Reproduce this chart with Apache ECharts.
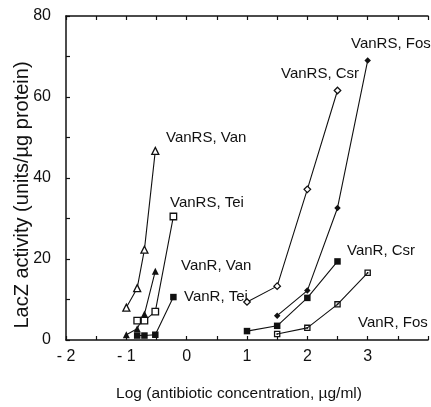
<!DOCTYPE html>
<html>
<head>
<meta charset="utf-8">
<script src="https://cdn.jsdelivr.net/npm/echarts@6/dist/echarts.min.js"></script>
<style>
  html, body { margin: 0; padding: 0; background: #fff; }
  #container { width: 431px; height: 407px; }
</style>
</head>
<body>
<div id="container"></div>
<script>
let dom = document.getElementById("container");
let myChart = echarts.init(dom);

// log(antibiotic concentration, ug/ml) for each curve
const vanDoses = [-1, -0.82, -0.7, -0.52];
const teiDoses = [-0.82, -0.7, -0.52, -0.22];
const csrDoses = [1, 1.5, 2, 2.5];
const fosDoses = [1.5, 2, 2.5, 3];

// LacZ activity (units/ug protein)
const vanrsVan = [8, 12.8, 22.3, 46.7];
const vanrsTei = [4.8, 4.8, 7, 30.5];
const vanrVan = [1.3, 2.8, 6.4, 17];
const vanrTei = [1.1, 1.1, 1.3, 10.6];
const vanrsCsr = [9.4, 13.3, 37.2, 61.6];
const vanrsFos = [6, 12.2, 32.6, 69];
const vanrCsr = [2.2, 3.5, 10.4, 19.4];
const vanrFos = [1.5, 3, 8.8, 16.6];

const seriesNames = ["VanRS, Van", "VanRS, Tei", "VanR, Van", "VanR, Tei",
    "VanRS, Csr", "VanRS, Fos", "VanR, Csr", "VanR, Fos"];

const font = '"Liberation Sans", Arial, sans-serif';
const ink = '#111';

// square outline with a dot in the middle
const dotSquare = 'path://M0,0 H10 V10 H0 Z M2,2 V8 H8 V2 Z M3.8,3.8 H6.2 V6.2 H3.8 Z';

function pairs(xs, ys) {
    return xs.map(function (x, i) {
        return [x, ys[i]];
    });
}

function makeSeries(name, xs, ys, symbol, size, open) {
    return {
        name: name,
        type: 'line',
        data: pairs(xs, ys),
        symbol: symbol,
        symbolSize: size,
        showAllSymbol: true,
        lineStyle: {color: ink, width: 1.1},
        itemStyle: open
            ? {color: '#fff', borderColor: ink, borderWidth: 1.3}
            : {color: ink, borderWidth: 0},
        emphasis: {disabled: true},
        z: 3
    };
}

// label placement for the curve names (pixel layout)
const labelSpots = [
    [166, 138], [170, 203], [181, 266], [184, 297],
    [281, 74], [351, 44], [347, 251], [358, 323]
];

let graphics = seriesNames.map(function (name, i) {
    return {
        type: 'text',
        x: labelSpots[i][0],
        y: labelSpots[i][1],
        style: {
            text: name,
            fill: ink,
            font: '15px ' + font,
            verticalAlign: 'middle'
        }
    };
});

graphics.push({
    type: 'text',
    x: 22,
    y: 195,
    rotation: Math.PI / 2,
    style: {
        text: 'LacZ activity (units/\u00b5g protein)',
        fill: ink,
        font: '20px ' + font,
        align: 'center',
        verticalAlign: 'middle'
    }
});

let axisCommon = {
    type: 'value',
    axisLine: {show: true, onZero: false, lineStyle: {color: ink, width: 1.5}},
    axisTick: {show: true, inside: true, length: 4, lineStyle: {color: ink, width: 1.2}},
    splitLine: {show: false}
};

let option = {
    animation: false,
    backgroundColor: '#fff',
    grid: {left: 66, top: 16, width: 370, height: 336},
    xAxis: [
        Object.assign({}, axisCommon, {
            position: 'bottom',
            min: -2,
            max: 4,
            interval: 0.5,
            name: 'Log (antibiotic concentration, \u00b5g/ml)',
            nameLocation: 'middle',
            nameGap: 46,
            nameTextStyle: {fontFamily: font, fontSize: 15.5, color: ink, padding: [0, 16, 0, 0]},
            axisLabel: {
                fontFamily: font,
                fontSize: 16,
                color: ink,
                margin: 9,
                formatter: function (v) {
                    if (v % 1 !== 0 || v >= 4) return '';
                    return v < 0 ? '- ' + Math.abs(v) : String(v);
                }
            }
        }),
        Object.assign({}, axisCommon, {
            position: 'top',
            min: -2,
            max: 4,
            interval: 0.5,
            axisLabel: {show: false}
        })
    ],
    yAxis: [
        Object.assign({}, axisCommon, {
            min: 0,
            max: 80,
            interval: 10,
            axisLabel: {
                fontFamily: font,
                fontSize: 16,
                color: ink,
                margin: 15,
                formatter: function (v) {
                    return v % 20 === 0 ? String(v) : '';
                }
            }
        })
    ],
    graphic: graphics,
    series: [
        makeSeries(seriesNames[0], vanDoses, vanrsVan, 'triangle', 7, true),
        makeSeries(seriesNames[1], teiDoses, vanrsTei, 'rect', 6.5, true),
        makeSeries(seriesNames[2], vanDoses, vanrVan, 'triangle', 7, false),
        makeSeries(seriesNames[3], teiDoses, vanrTei, 'rect', 6.5, false),
        makeSeries(seriesNames[4], csrDoses, vanrsCsr, 'diamond', 6.5, true),
        makeSeries(seriesNames[5], fosDoses, vanrsFos, 'diamond', 6.5, false),
        makeSeries(seriesNames[6], csrDoses, vanrCsr, 'rect', 6.5, false),
        makeSeries(seriesNames[7], fosDoses, vanrFos, dotSquare, 6.5, false)
    ]
};

myChart.setOption(option);
</script>
</body>
</html>
